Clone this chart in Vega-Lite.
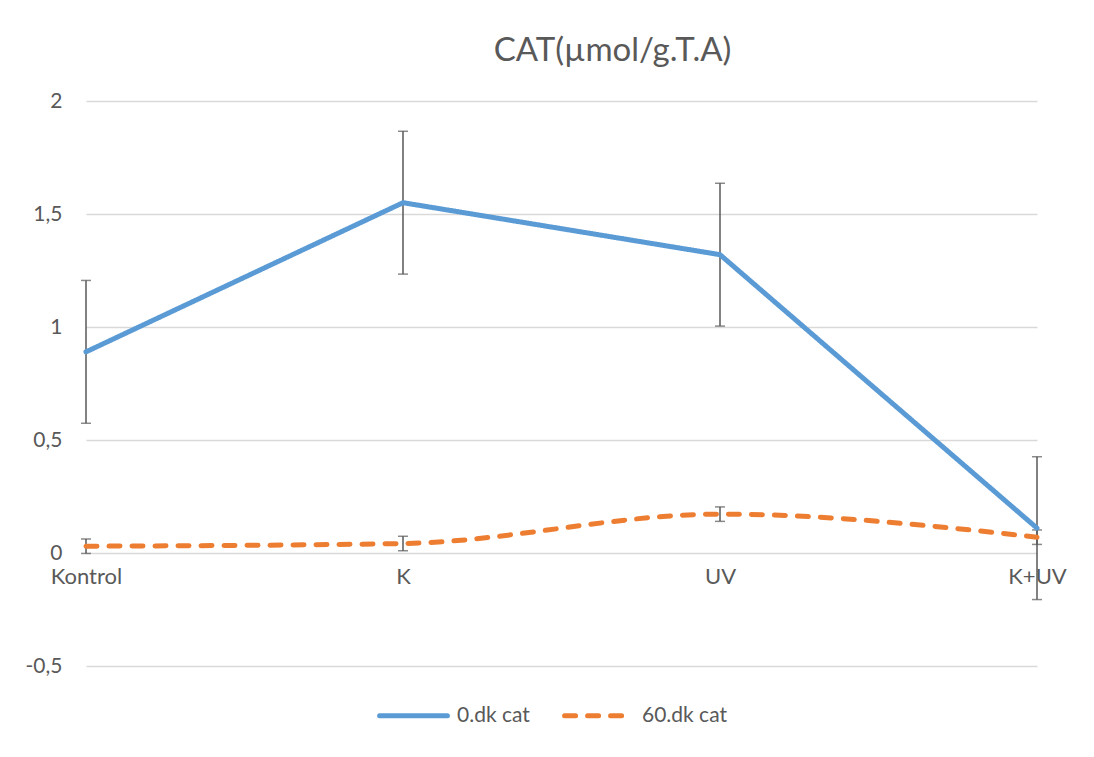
{
  "$schema": "https://vega.github.io/schema/vega-lite/v6.json",
  "autosize": "none",
  "width": 951,
  "height": 565,
  "padding": {"left": 86, "top": 101, "right": 57, "bottom": 91},
  "background": "white",
  "title": {
    "text": "CAT(µmol/g.T.A)",
    "fontSize": 33,
    "fontWeight": "normal",
    "color": "#595959",
    "font": "Lato",
    "anchor": "middle",
    "dx": 51,
    "offset": 22
  },
  "data": {
    "values": [
      {"cat": "Kontrol", "series": "0.dk cat", "value": 0.89, "lo": 0.574, "hi": 1.206},
      {"cat": "K", "series": "0.dk cat", "value": 1.55, "lo": 1.234, "hi": 1.866},
      {"cat": "UV", "series": "0.dk cat", "value": 1.32, "lo": 1.004, "hi": 1.636},
      {"cat": "K+UV", "series": "0.dk cat", "value": 0.11, "lo": -0.206, "hi": 0.426},
      {"cat": "Kontrol", "series": "60.dk cat", "value": 0.03, "lo": -0.002, "hi": 0.062},
      {"cat": "K", "series": "60.dk cat", "value": 0.042, "lo": 0.01, "hi": 0.074},
      {"cat": "UV", "series": "60.dk cat", "value": 0.172, "lo": 0.14, "hi": 0.204},
      {"cat": "K+UV", "series": "60.dk cat", "value": 0.07, "lo": 0.038, "hi": 0.102}
    ]
  },
  "encoding": {
    "x": {
      "field": "cat",
      "type": "nominal",
      "sort": ["Kontrol", "K", "UV", "K+UV"],
      "scale": {"type": "point", "padding": 0},
      "axis": {
        "title": null,
        "offset": -113,
        "domain": false,
        "ticks": false,
        "labelAngle": 0,
        "labelPadding": 13,
        "labelFontSize": 22,
        "labelColor": "#595959",
        "labelFont": "Lato",
        "grid": false
      }
    }
  },
  "layer": [
    {
      "mark": {"type": "rule", "color": "#595959", "strokeWidth": 1.5},
      "encoding": {
        "y": {
          "field": "lo",
          "type": "quantitative",
          "scale": {"domain": [-0.5, 2], "nice": false},
          "axis": {
            "title": null,
            "values": [-0.5, 0, 0.5, 1, 1.5, 2],
            "labelExpr": "replace(toString(datum.value), '.', ',')",
            "domain": false,
            "ticks": false,
            "labelPadding": 24,
            "labelFontSize": 21,
            "labelColor": "#595959",
            "labelFont": "Lato",
            "gridColor": "#d9d9d9",
            "gridWidth": 1.5
          }
        },
        "y2": {"field": "hi"}
      }
    },
    {
      "mark": {"type": "tick", "color": "#595959", "thickness": 1.5, "size": 10},
      "encoding": {"y": {"field": "lo", "type": "quantitative"}}
    },
    {
      "mark": {"type": "tick", "color": "#595959", "thickness": 1.5, "size": 10},
      "encoding": {"y": {"field": "hi", "type": "quantitative"}}
    },
    {
      "transform": [{"filter": "datum.series == '0.dk cat'"}],
      "mark": {"type": "line", "strokeWidth": 5, "strokeCap": "round", "strokeJoin": "round"},
      "encoding": {
        "y": {"field": "value", "type": "quantitative"},
        "color": {
          "field": "series",
          "type": "nominal",
          "scale": {"domain": ["0.dk cat", "60.dk cat"], "range": ["#5b9bd5", "#ed7d31"]},
          "legend": {
            "title": null,
            "orient": "none",
            "legendX": 291,
            "legendY": 578,
            "direction": "horizontal",
            "symbolType": "stroke",
            "symbolSize": 4600,
            "symbolStrokeWidth": 5,
            "labelFontSize": 21,
            "labelColor": "#595959",
            "labelFont": "Lato",
            "labelOffset": 7,
            "columnPadding": 24,
            "encode": {"symbols": {"update": {"strokeCap": {"value": "round"}}}}
          }
        },
        "strokeDash": {
          "field": "series",
          "type": "nominal",
          "scale": {"domain": ["0.dk cat", "60.dk cat"], "range": [[1, 0], [11, 12]]},
          "legend": null
        }
      }
    },
    {
      "transform": [{"filter": "datum.series == '60.dk cat'"}],
      "mark": {"type": "line", "strokeWidth": 5, "strokeCap": "round", "interpolate": "monotone"},
      "encoding": {
        "y": {"field": "value", "type": "quantitative"},
        "color": {"field": "series", "type": "nominal"},
        "strokeDash": {"field": "series", "type": "nominal"}
      }
    }
  ],
  "config": {
    "view": {"stroke": null},
    "font": "Lato"
  }
}
